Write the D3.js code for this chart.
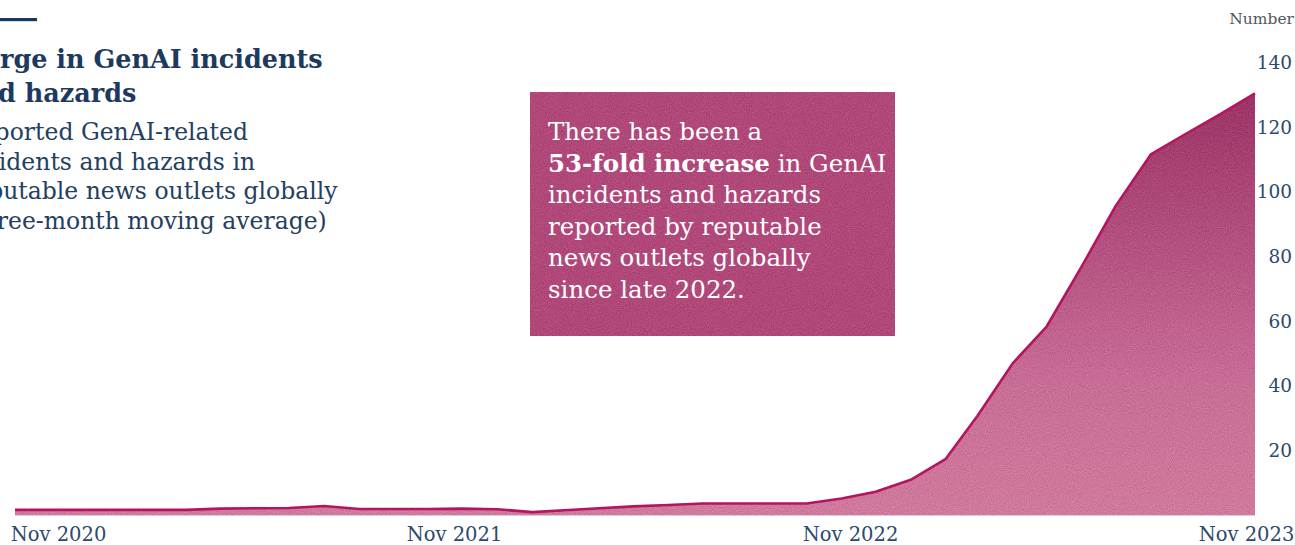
<!DOCTYPE html>
<html>
<head>
<meta charset="utf-8">
<script src="https://cdn.jsdelivr.net/npm/d3@7/dist/d3.min.js"></script>
<style>
  html, body { margin: 0; padding: 0; background: #ffffff; overflow: hidden; }
  svg { display: block; font-family: "DejaVu Serif", serif; }
</style>
</head>
<body>
<svg id="chart" width="1295" height="545"></svg>
<script>
// ---- Data (three-month moving average, monthly) ----
const months = [
  "2020-11","2020-12","2021-01","2021-02","2021-03","2021-04","2021-05","2021-06",
  "2021-07","2021-08","2021-09","2021-10","2021-11","2021-12","2022-01","2022-02",
  "2022-03","2022-04","2022-05","2022-06","2022-07","2022-08","2022-09","2022-10",
  "2022-11","2022-12","2023-01","2023-02","2023-03","2023-04","2023-05","2023-06",
  "2023-07","2023-08","2023-09","2023-10","2023-11"
];
const incidents = [
  1.7, 1.7, 1.7, 1.7, 1.7, 1.7, 2.1, 2.2,
  2.3, 2.9, 2.0, 2.0, 2.0, 2.1, 1.9, 1.0,
  1.6, 2.2, 2.8, 3.2, 3.7, 3.7, 3.7, 3.7,
  5.2, 7.3, 11.0, 17.5, 30.8, 47.0, 58.4, 77.0,
  95.7, 111.6, 118.0, 124.0, 130.5
];
const xTickLabels = ["Nov 2020", "Nov 2021", "Nov 2022", "Nov 2023"];
const yTickValues = [20, 40, 60, 80, 100, 120, 140];
const titleLines = ["Surge in GenAI incidents", "and hazards"];
const subtitleLines = [
  "Reported GenAI-related",
  "incidents and hazards in",
  "reputable news outlets globally",
  "(three-month moving average)"
];
const annotationLines = [
  [{t: "There has been a", b: false}],
  [{t: "53-fold increase", b: true}, {t: " in GenAI", b: false}],
  [{t: "incidents and hazards", b: false}],
  [{t: "reported by reputable", b: false}],
  [{t: "news outlets globally", b: false}],
  [{t: "since late 2022.", b: false}]
];

const parse = d3.timeParse("%Y-%m");
const data = months.map((m, i) => ({ date: parse(m), value: incidents[i] }));

const svg = d3.select("#chart");
const navy = "#1d3a5e";

// ---- Scales ----
const x = d3.scaleTime()
  .domain(d3.extent(data, d => d.date))
  .range([15, 1255]);
const y = d3.scaleLinear().domain([0, 140]).range([515.4, 62.6]);
const xLab = d3.scalePoint().domain(xTickLabels).range([58, 1246]);

// ---- Defs: gradient + grain ----
const defs = svg.append("defs");
const grad = defs.append("linearGradient")
  .attr("id", "areaGrad").attr("gradientUnits", "userSpaceOnUse")
  .attr("x1", 0).attr("y1", y(130)).attr("x2", 0).attr("y2", y(0));
grad.append("stop").attr("offset", "0%").attr("stop-color", "#9d3467");
grad.append("stop").attr("offset", "35%").attr("stop-color", "#b35180");
grad.append("stop").attr("offset", "70%").attr("stop-color", "#c96f96");
grad.append("stop").attr("offset", "100%").attr("stop-color", "#d07a9d");

const grain = defs.append("filter").attr("id", "grain")
  .attr("x", 0).attr("y", 0).attr("width", "100%").attr("height", "100%")
  .attr("color-interpolation-filters", "sRGB");
grain.append("feTurbulence").attr("type", "fractalNoise")
  .attr("baseFrequency", 0.95).attr("numOctaves", 2).attr("seed", 4).attr("result", "noise");
grain.append("feColorMatrix").attr("in", "noise").attr("type", "matrix")
  .attr("values", "0.33 0.33 0.33 0 0  0.33 0.33 0.33 0 0  0.33 0.33 0.33 0 0  0 0 0 0 1")
  .attr("result", "gray");
grain.append("feComposite").attr("in", "SourceGraphic").attr("in2", "gray")
  .attr("operator", "arithmetic")
  .attr("k1", 0).attr("k2", 1).attr("k3", 0.3).attr("k4", -0.15).attr("result", "mix");
grain.append("feComposite").attr("in", "mix").attr("in2", "SourceGraphic")
  .attr("operator", "in");

// ---- Area + line ----
const area = d3.area().x(d => x(d.date)).y0(y(0)).y1(d => y(d.value));
const line = d3.line().x(d => x(d.date)).y(d => y(d.value));

svg.append("path").datum(data)
  .attr("d", area)
  .attr("fill", "url(#areaGrad)")
  .attr("filter", "url(#grain)");

svg.append("path").datum(data)
  .attr("d", line)
  .attr("fill", "none")
  .attr("stroke", "#b3155f")
  .attr("stroke-width", 2.6)
  .attr("stroke-linejoin", "round");

// ---- Y axis (labels only, right side) ----
const yAxis = svg.append("g")
  .attr("transform", "translate(1292,0)")
  .call(d3.axisLeft(y).tickValues(yTickValues).tickSize(0).tickPadding(0));
yAxis.select(".domain").remove();
yAxis.selectAll("text")
  .attr("fill", "#2c4a6d")
  .style("font-family", "DejaVu Serif, serif")
  .style("font-size", "18.5px");

svg.append("text")
  .attr("x", 1294).attr("y", 24)
  .attr("text-anchor", "end")
  .attr("fill", "#555")
  .style("font-size", "15.5px")
  .text("Number");

// ---- X axis (labels only) ----
const xAxis = svg.append("g")
  .attr("transform", "translate(0,522)")
  .call(d3.axisBottom(xLab).tickSize(0).tickPadding(0));
xAxis.select(".domain").remove();
xAxis.selectAll("text")
  .attr("dy", "0.95em")
  .attr("fill", "#2c4a6d")
  .style("font-family", "DejaVu Serif, serif")
  .style("font-size", "19.5px");

// ---- Title block (left edge cropped, as in the reference) ----
svg.append("rect").attr("x", 0).attr("y", 18).attr("width", 37).attr("height", 3.2)
  .attr("fill", "#163a60");

const blockX = -37;
svg.append("g").selectAll("text").data(titleLines).join("text")
  .attr("x", blockX)
  .attr("y", (d, i) => 68 + i * 34)
  .attr("fill", navy)
  .style("font-size", "25.5px")
  .style("font-weight", "bold")
  .text(d => d);

svg.append("g").selectAll("text").data(subtitleLines).join("text")
  .attr("x", blockX)
  .attr("y", (d, i) => 140 + i * 29.7)
  .attr("fill", "#24405f")
  .style("font-size", "23.5px")
  .text(d => d);

// ---- Annotation box ----
svg.append("rect")
  .attr("x", 530).attr("y", 92).attr("width", 365).attr("height", 244)
  .attr("fill", "#b1487a")
  .attr("filter", "url(#grain)");

const ann = svg.append("text")
  .attr("fill", "#ffffff")
  .style("font-size", "24.5px");
annotationLines.forEach((parts, i) => {
  const first = ann.append("tspan").attr("x", 548).attr("y", 140 + i * 31.6);
  parts.forEach((p, j) => {
    const ts = j === 0 ? first : ann.append("tspan");
    ts.style("font-weight", p.b ? "bold" : "normal").text(p.t);
  });
});
</script>
</body>
</html>
